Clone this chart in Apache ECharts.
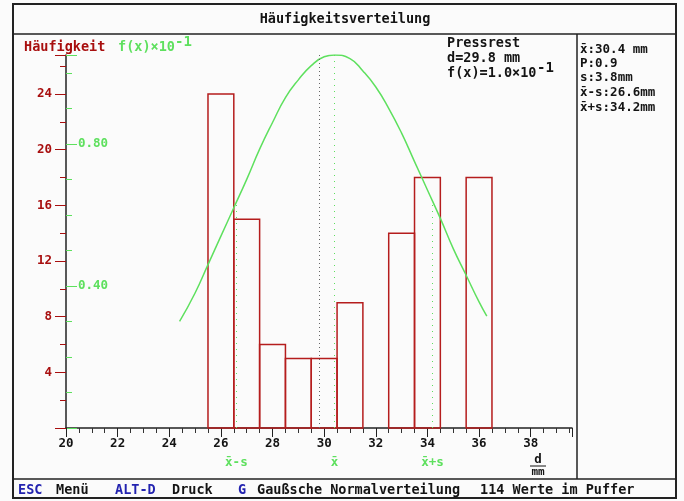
<!DOCTYPE html>
<html>
<head>
<meta charset="utf-8">
<script src="https://cdn.jsdelivr.net/npm/echarts@6/dist/echarts.min.js"></script>
<style>
html, body { margin: 0; padding: 0; background: #fbfbfb; }
#main { width: 684px; height: 501px; }
</style>
</head>
<body>
<div id="main"></div>
<script>
// Klassen der Häufigkeitsverteilung (Klassenmitte in mm, Breite 1 mm)
var binCenters = [26, 27, 28, 29, 30, 31, 32, 33, 34, 35, 36];
var binCounts = [24, 15, 6, 5, 5, 9, 0, 14, 18, 0, 18];
var binWidth = 1;

// Gaußsche Normalverteilung, f(x) in Einheiten von 10^-1
var curveX = [24.4, 25, 25.5, 26, 26.5, 27, 27.5, 28, 28.5, 29, 29.5, 30, 30.4,
              31, 31.5, 32, 32.5, 33, 33.5, 34, 34.5, 35, 35.5, 36, 36.3];
var curveY = [0.30, 0.38, 0.46, 0.54, 0.62, 0.70, 0.785, 0.86, 0.93, 0.98, 1.02, 1.045, 1.05,
              1.04, 1.005, 0.96, 0.90, 0.83, 0.75, 0.67, 0.59, 0.505, 0.43, 0.355, 0.315];

// Kennwerte
var meanX = 30.4, sdLow = 26.6, sdHigh = 34.2, pressrest = 29.8;
var fAtMean = 1.05, fAtSd = 0.637;

var xTicks = [20, 22, 24, 26, 28, 30, 32, 34, 36, 38];

var RED = '#a80f0f', BAR = '#b51d1d', GREEN = '#5ee05e', BLUE = '#2323b0', INK = '#141414';
var FONT = '"DejaVu Sans Mono", "Liberation Mono", monospace';

var myChart = echarts.init(document.getElementById('main'));

function txt(x, y, s, color, size, align) {
    return {
        type: 'text', x: x, y: y, z: 10,
        style: {
            text: s, fill: color || INK,
            font: 'bold ' + (size || 13.5) + 'px ' + FONT,
            align: align || 'left', verticalAlign: 'middle'
        }
    };
}

var option = {
    backgroundColor: '#fbfbfb',
    animation: false,
    grid: { left: 66, right: 112, top: 55, bottom: 73 },
    xAxis: {
        type: 'value', min: 20, max: 39.6, interval: 2,
        axisLine: { lineStyle: { color: '#222', width: 1.5 } },
        axisTick: { length: 9, lineStyle: { color: '#222' } },
        minorTick: { show: true, splitNumber: 4, length: 5, lineStyle: { color: '#333' } },
        splitLine: { show: false },
        axisLabel: {
            margin: 9, color: INK, fontFamily: FONT, fontWeight: 'bold', fontSize: 12.5,
            formatter: function (v) { return xTicks.indexOf(v) >= 0 ? String(v) : ''; }
        }
    },
    yAxis: [
        {
            type: 'value', min: 0, max: 26.8, interval: 4, position: 'left',
            axisLine: { show: true, lineStyle: { color: '#222', width: 1.5 } },
            axisTick: { length: 11, lineStyle: { color: RED } },
            minorTick: { show: true, splitNumber: 2, length: 6, lineStyle: { color: RED } },
            splitLine: { show: false },
            axisLabel: {
                margin: 14, color: RED, fontFamily: FONT, fontWeight: 'bold', fontSize: 12.5,
                showMaxLabel: false,
                formatter: function (v) { return (v > 0 && v % 4 === 0) ? String(v) : ''; }
            }
        },
        {
            type: 'value', min: 0, max: 1.05, interval: 0.1, position: 'left',
            axisLine: { show: false },
            axisTick: { inside: true, length: 6, lineStyle: { color: GREEN } },
            splitLine: { show: false },
            axisLabel: { show: false }
        },
        {
            type: 'value', min: 0, max: 1.05, interval: 0.4, position: 'left',
            axisLine: { show: false },
            axisTick: { inside: true, length: 11, lineStyle: { color: GREEN } },
            splitLine: { show: false },
            axisLabel: {
                inside: true, margin: 12, color: GREEN, fontFamily: FONT, fontWeight: 'bold', fontSize: 12.5,
                formatter: function (v) {
                    return (Math.abs(v - 0.4) < 1e-6 || Math.abs(v - 0.8) < 1e-6) ? v.toFixed(2) : '';
                }
            }
        }
    ],
    series: [
        {
            type: 'custom',
            xAxisIndex: 0, yAxisIndex: 0,
            encode: { x: 0, y: 1 },
            data: binCenters.map(function (c, i) { return [c, binCounts[i]]; }),
            renderItem: function (params, api) {
                var c = api.value(0), n = api.value(1);
                if (!n) return null;
                var p0 = api.coord([c - binWidth / 2, n]);
                var p1 = api.coord([c + binWidth / 2, 0]);
                return {
                    type: 'rect',
                    shape: { x: p0[0], y: p0[1], width: p1[0] - p0[0], height: p1[1] - p0[1] },
                    style: { fill: 'none', stroke: BAR, lineWidth: 1.5 }
                };
            },
            z: 3
        },
        {
            type: 'line',
            xAxisIndex: 0, yAxisIndex: 1,
            data: curveX.map(function (x, i) { return [x, curveY[i]]; }),
            smooth: true, showSymbol: false,
            lineStyle: { color: GREEN, width: 1.5 },
            z: 4,
            markLine: {
                silent: true,
                symbol: ['none', 'none'],
                data: [
                    {
                        xAxis: pressrest,
                        lineStyle: { color: '#666', type: [1, 3], width: 1 },
                        label: { show: false }
                    },
                    [{ coord: [sdLow, 0], name: 'x\u0304-s' }, { coord: [sdLow, fAtSd] }],
                    [{ coord: [meanX, 0], name: 'x\u0304' }, { coord: [meanX, fAtMean] }],
                    [{ coord: [sdHigh, 0], name: 'x\u0304+s' }, { coord: [sdHigh, fAtSd] }]
                ],
                lineStyle: { color: GREEN, type: [1, 5], width: 1 },
                label: {
                    show: true, position: 'start', distance: 28,
                    color: GREEN, fontFamily: FONT, fontWeight: 'bold', fontSize: 12.5,
                    formatter: '{b}'
                }
            }
        }
    ],
    graphic: [
        { type: 'rect', shape: { x: 13, y: 4, width: 663, height: 494 }, style: { fill: 'none', stroke: '#222', lineWidth: 2 } },
        { type: 'line', shape: { x1: 13, y1: 34, x2: 676, y2: 34 }, style: { stroke: '#222', lineWidth: 1.5 } },
        { type: 'line', shape: { x1: 13, y1: 479, x2: 676, y2: 479 }, style: { stroke: '#222', lineWidth: 1.5 } },
        { type: 'line', shape: { x1: 577, y1: 34, x2: 577, y2: 479 }, style: { stroke: '#222', lineWidth: 1.5 } },

        txt(345, 19, 'Häufigkeitsverteilung', INK, 13.5, 'center'),

        txt(24, 47, 'Häufigkeit', RED),
        txt(118, 47, 'f(x)×10', GREEN),
        txt(175, 42, '-1', GREEN, 14),

        txt(447, 43, 'Pressrest'),
        txt(447, 58, 'd=29.8 mm'),
        txt(447, 73, 'f(x)=1.0×10'),
        txt(537, 68, '-1', INK, 14),

        txt(580, 50, 'x\u0304:30.4 mm', INK, 12.5),
        txt(580, 64, 'P:0.9', INK, 12.5),
        txt(580, 78, 's:3.8mm', INK, 12.5),
        txt(580, 93, 'x\u0304-s:26.6mm', INK, 12.5),
        txt(580, 108, 'x\u0304+s:34.2mm', INK, 12.5),

        txt(538, 460, 'd', INK, 12.5, 'center'),
        { type: 'line', shape: { x1: 530, y1: 466, x2: 546, y2: 466 }, style: { stroke: INK, lineWidth: 1 } },
        txt(538, 472, 'mm', INK, 11, 'center'),

        txt(18, 490, 'ESC', BLUE),
        txt(56, 490, 'Menü'),
        txt(115, 490, 'ALT-D', BLUE),
        txt(172, 490, 'Druck'),
        txt(238, 490, 'G', BLUE),
        txt(257, 490, 'Gaußsche Normalverteilung'),
        txt(480, 490, '114 Werte im Puffer')
    ]
};

myChart.setOption(option);
</script>
</body>
</html>
